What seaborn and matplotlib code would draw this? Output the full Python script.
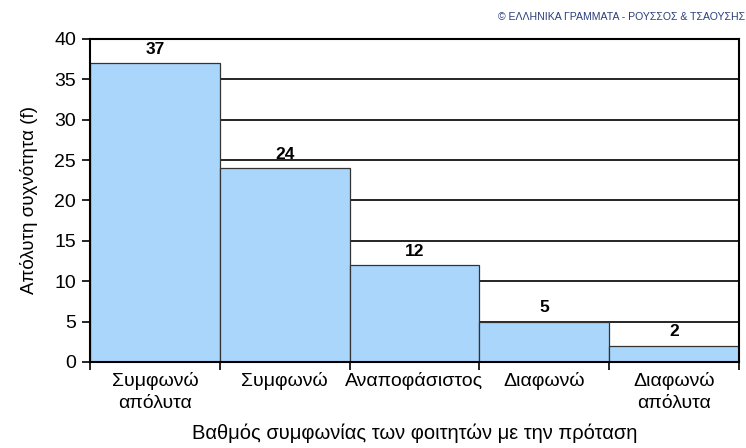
import numpy as np
import pandas as pd
import seaborn as sns
import matplotlib.pyplot as plt

# Data
categories = ['Συμφωνώ\nαπόλυτα', 'Συμφωνώ', 'Αναποφάσιστος', 'Διαφωνώ', 'Διαφωνώ\nαπόλυτα']
counts = [37, 24, 12, 5, 2]
y_ticks = [0, 5, 10, 15, 20, 25, 30, 35, 40]

df = pd.DataFrame({'category': categories, 'count': counts})

sns.set_style('white')
plt.rcParams['font.family'] = ['Liberation Sans', 'DejaVu Sans']
plt.rcParams['text.color'] = 'black'
plt.rcParams['axes.labelcolor'] = 'black'
plt.rcParams['xtick.color'] = 'black'
plt.rcParams['ytick.color'] = 'black'

fig = plt.figure(figsize=(7.46, 4.48), dpi=100)
ax = fig.add_axes([0.1206, 0.192, 0.8700, 0.721])

# horizontal grid lines behind the bars
for y in y_ticks[1:]:
    ax.axhline(y, color='black', lw=1.2, zorder=0)

sns.barplot(data=df, x='category', y='count', color='#A9D6FA', width=1.0,
            saturation=1, edgecolor='#333333', linewidth=0.9, ax=ax, zorder=2)

for i, v in enumerate(counts):
    ax.text(i, v + 0.8, str(v), ha='center', va='bottom', fontsize=12.5,
            fontweight='bold', zorder=3)

ax.set_xlim(-0.5, len(categories) - 0.5)
ax.set_ylim(0, 40)
ax.set_yticks(y_ticks)
ax.tick_params(axis='y', left=True, labelsize=14, length=6, width=1.2, pad=4)

# ticks at the bar boundaries, labels at the bar centres
ax.set_xticks(np.arange(-0.5, len(categories), 1.0))
ax.set_xticklabels([])
ax.set_xticks(np.arange(len(categories)), minor=True)
ax.set_xticklabels(categories, minor=True, fontsize=14, linespacing=1.4)
ax.tick_params(axis='x', which='major', bottom=True, length=6, width=1.2, direction='out')
ax.tick_params(axis='x', which='minor', bottom=True, length=0, pad=7)

for s in ax.spines.values():
    s.set_visible(True)
    s.set_color('black')
    s.set_linewidth(1.5)

ax.set_xlabel('Βαθμός συμφωνίας των φοιτητών με την πρόταση', fontsize=14.5, labelpad=8)
ax.set_ylabel('Απόλυτη συχνότητα (f)', fontsize=13.5, labelpad=12)

fig.text(0.999, 0.962, '© ΕΛΛΗΝΙΚΑ ΓΡΑΜΜΑΤΑ - ΡΟΥΣΣΟΣ & ΤΣΑΟΥΣΗΣ', ha='right', va='center',
         fontsize=7.6, color='#2A3F7A')

fig.savefig('out.png', dpi=100)
